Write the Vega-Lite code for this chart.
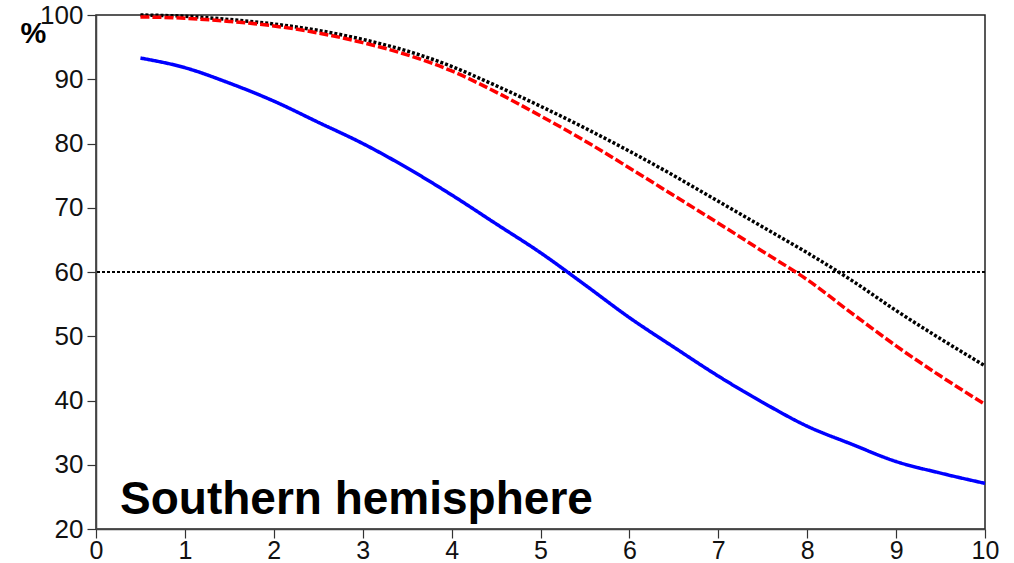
{
  "$schema": "https://vega.github.io/schema/vega-lite/v6.json",
  "width": 889,
  "height": 514,
  "autosize": {"type": "none"},
  "padding": {"left": 96, "top": 15, "right": 29, "bottom": 34},
  "background": "white",
  "config": {
    "view": {"stroke": "#222", "strokeWidth": 1.5},
    "font": "Liberation Sans",
    "axis": {
      "grid": false,
      "domainColor": "#444",
      "domainWidth": 1.5,
      "tickColor": "#333",
      "tickWidth": 1.2,
      "tickSize": 9,
      "labelFont": "Liberation Sans",
      "labelFontSize": 26,
      "labelColor": "#111",
      "labelFlush": false,
      "labelOverlap": false
    }
  },
  "datasets": {
    "curves": [
      {"t": 0.5, "s": "Black", "v": 100.0}, {"t": 1, "s": "Black", "v": 99.8}, {"t": 1.5, "s": "Black", "v": 99.3}, {"t": 2, "s": "Black", "v": 98.6}, {"t": 2.5, "s": "Black", "v": 97.6}, {"t": 3, "s": "Black", "v": 96.2}, {"t": 3.5, "s": "Black", "v": 94.4}, {"t": 4, "s": "Black", "v": 92.0}, {"t": 4.5, "s": "Black", "v": 89.0}, {"t": 5, "s": "Black", "v": 85.8}, {"t": 5.5, "s": "Black", "v": 82.4}, {"t": 6, "s": "Black", "v": 78.8}, {"t": 6.5, "s": "Black", "v": 75.0}, {"t": 7, "s": "Black", "v": 71.0}, {"t": 7.5, "s": "Black", "v": 67.0}, {"t": 8, "s": "Black", "v": 63.0}, {"t": 8.5, "s": "Black", "v": 58.7}, {"t": 9, "s": "Black", "v": 54.0}, {"t": 9.5, "s": "Black", "v": 49.6}, {"t": 10, "s": "Black", "v": 45.4},
      {"t": 0.5, "s": "Red", "v": 99.7}, {"t": 1, "s": "Red", "v": 99.5}, {"t": 1.5, "s": "Red", "v": 99.0}, {"t": 2, "s": "Red", "v": 98.3}, {"t": 2.5, "s": "Red", "v": 97.2}, {"t": 3, "s": "Red", "v": 95.7}, {"t": 3.5, "s": "Red", "v": 93.8}, {"t": 4, "s": "Red", "v": 91.3}, {"t": 4.5, "s": "Red", "v": 88.0}, {"t": 5, "s": "Red", "v": 84.3}, {"t": 5.5, "s": "Red", "v": 80.4}, {"t": 6, "s": "Red", "v": 76.2}, {"t": 6.5, "s": "Red", "v": 71.9}, {"t": 7, "s": "Red", "v": 67.6}, {"t": 7.5, "s": "Red", "v": 63.2}, {"t": 8, "s": "Red", "v": 58.8}, {"t": 8.5, "s": "Red", "v": 53.6}, {"t": 9, "s": "Red", "v": 48.5}, {"t": 9.5, "s": "Red", "v": 43.8}, {"t": 10, "s": "Red", "v": 39.4},
      {"t": 0.5, "s": "Blue", "v": 93.3}, {"t": 1, "s": "Blue", "v": 91.8}, {"t": 1.5, "s": "Blue", "v": 89.4}, {"t": 2, "s": "Blue", "v": 86.6}, {"t": 2.5, "s": "Blue", "v": 83.3}, {"t": 3, "s": "Blue", "v": 80.0}, {"t": 3.5, "s": "Blue", "v": 76.2}, {"t": 4, "s": "Blue", "v": 72.0}, {"t": 4.5, "s": "Blue", "v": 67.5}, {"t": 5, "s": "Blue", "v": 63.0}, {"t": 5.5, "s": "Blue", "v": 58.0}, {"t": 6, "s": "Blue", "v": 52.9}, {"t": 6.5, "s": "Blue", "v": 48.3}, {"t": 7, "s": "Blue", "v": 43.8}, {"t": 7.5, "s": "Blue", "v": 39.7}, {"t": 8, "s": "Blue", "v": 36.0}, {"t": 8.5, "s": "Blue", "v": 33.2}, {"t": 9, "s": "Blue", "v": 30.5}, {"t": 9.5, "s": "Blue", "v": 28.7}, {"t": 10, "s": "Blue", "v": 27.1}
    ],
    "ref": [{"level": 60}],
    "label": [{"t": 0.27, "v": 22.4, "text": "Southern hemisphere"}]
  },
  "layer": [
    {
      "data": {"name": "ref"},
      "mark": {"type": "rule", "color": "black", "strokeWidth": 2.2, "strokeDash": [3, 2]},
      "encoding": {
        "y": {"field": "level", "type": "quantitative", "scale": {"domain": [20, 100]}}
      }
    },
    {
      "data": {"name": "curves"},
      "mark": {"type": "line", "interpolate": "monotone", "strokeWidth": 3.5},
      "encoding": {
        "x": {
          "field": "t", "type": "quantitative",
          "scale": {"domain": [0, 10], "nice": false},
          "axis": {"values": [0, 1, 2, 3, 4, 5, 6, 7, 8, 9, 10], "format": "d", "title": null, "labelPadding": 0, "labelFontSize": 25}
        },
        "y": {
          "field": "v", "type": "quantitative",
          "scale": {"domain": [20, 100], "nice": false},
          "axis": {
            "values": [20, 30, 40, 50, 60, 70, 80, 90, 100],
            "format": "d",
            "title": "%",
            "titleAngle": 0,
            "titleFontSize": 29,
            "titleFontWeight": "bold",
            "titleFont": "Liberation Sans",
            "titleAlign": "center",
            "titleBaseline": "middle",
            "titleX": -63,
            "titleY": 18,
            "labelPadding": 4
          }
        },
        "color": {
          "field": "s", "type": "nominal",
          "scale": {"domain": ["Black", "Red", "Blue"], "range": ["#000000", "#ff0000", "#0000ff"]},
          "legend": null
        },
        "strokeDash": {
          "field": "s", "type": "nominal",
          "scale": {"domain": ["Black", "Red", "Blue"], "range": [[3, 2], [9, 3], [1, 0]]},
          "legend": null
        },
        "order": {"field": "t", "type": "quantitative"}
      }
    },
    {
      "data": {"name": "label"},
      "mark": {"type": "text", "align": "left", "baseline": "alphabetic", "fontSize": 46, "fontWeight": "bold", "font": "Liberation Sans", "color": "black"},
      "encoding": {
        "x": {"field": "t", "type": "quantitative"},
        "y": {"field": "v", "type": "quantitative"},
        "text": {"field": "text"}
      }
    }
  ]
}
